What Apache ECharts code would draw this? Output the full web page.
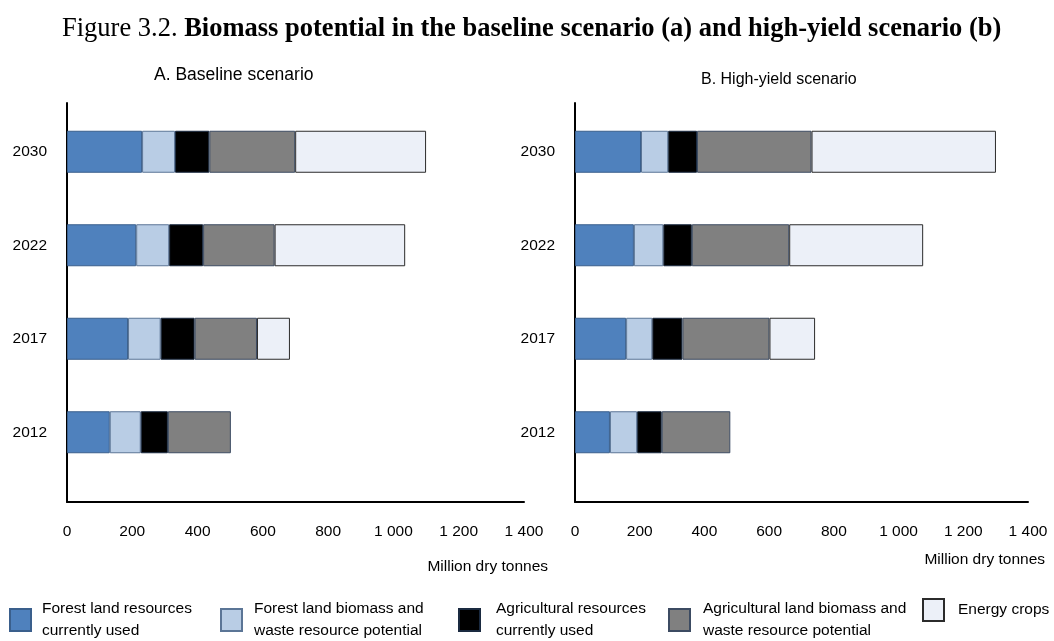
<!DOCTYPE html>
<html>
<head>
<meta charset="utf-8">
<script src="https://cdn.jsdelivr.net/npm/echarts@6/dist/echarts.min.js"></script>
<style>
  html, body { margin: 0; padding: 0; background: #fff; }
  #chart { width: 1054px; height: 641px; }
</style>
</head>
<body>
<div id="chart"></div>
<script>
// Years on the category axis, bottom to top
const years = ['2012', '2017', '2022', '2030'];

// Resource groups (stack order, left to right)
const groupNames = [
  'Forest land resources\ncurrently used',
  'Forest land biomass and\nwaste resource potential',
  'Agricultural resources\ncurrently used',
  'Agricultural land biomass and\nwaste resource potential',
  'Energy crops'
];

// A. Baseline scenario (million dry tonnes)
const baseForestUsed      = [131, 187, 212, 230];
const baseForestPotential = [95, 100, 101, 101];
const baseAgriUsed        = [83, 104, 104, 105];
const baseAgriPotential   = [193, 191, 219, 263];
const baseEnergyCrops     = [null, 101, 400, 401];

// B. High-yield scenario (million dry tonnes)
const hyForestUsed      = [108, 158, 182, 204];
const hyForestPotential = [84, 81, 91, 84];
const hyAgriUsed        = [76, 93, 88, 89];
const hyAgriPotential   = [212, 269, 301, 354];
const hyEnergyCrops     = [null, 141, 414, 570];

// Value axis tick labels (0 to 1 400, step 200)
const xTickLabels = ['0', '200', '400', '600', '800', '1 000', '1 200', '1 400'];

const SANS = 'Liberation Sans, Arial, sans-serif';
const SERIF = 'Liberation Serif, Times New Roman, serif';

const groupStyles = [
  { color: '#4f81bd', borderColor: '#3a5f8c' },
  { color: '#b9cde5', borderColor: '#5b7596' },
  { color: '#000000', borderColor: '#1a2a40' },
  { color: '#808080', borderColor: '#3c4b62' },
  { color: '#ecf0f8', borderColor: '#2b2b2b' }
];

const panels = [
  { left: 67, width: 457, gap: 24, namePad: 57,
    data: [baseForestUsed, baseForestPotential, baseAgriUsed, baseAgriPotential, baseEnergyCrops] },
  { left: 575, width: 453, gap: 17, namePad: 50,
    data: [hyForestUsed, hyForestPotential, hyAgriUsed, hyAgriPotential, hyEnergyCrops] }
];

const grid = [], xAxis = [], yAxis = [], series = [];

panels.forEach((p, i) => {
  // grid for the bars
  grid.push({ left: p.left, width: p.width, top: 105, height: 374, containLabel: false });
  // grid carrying the visible axis frame and ticks
  grid.push({ left: p.left, width: p.width, top: 103, height: 399, containLabel: false });
  const barGrid = i * 2, frameGrid = i * 2 + 1;

  xAxis.push({
    gridIndex: barGrid, type: 'value', min: 0, max: 1400, interval: 200, show: false
  });
  xAxis.push({
    gridIndex: frameGrid, type: 'value', min: 0, max: 1400, interval: 200,
    axisLine: { show: true, lineStyle: { color: '#000', width: 2 } },
    axisTick: { show: false },
    splitLine: { show: false },
    axisLabel: {
      margin: 22, color: '#000', fontFamily: SANS, fontSize: 15.5,
      formatter: v => xTickLabels[Math.round(v / 200)]
    },
    name: 'Million dry tonnes',
    nameLocation: 'end',
    nameGap: p.gap,
    nameTextStyle: {
      color: '#000', fontFamily: SANS, fontSize: 15.5,
      align: 'right', verticalAlign: 'top', padding: [p.namePad, 0, 0, 0]
    }
  });

  yAxis.push({
    gridIndex: barGrid, type: 'category', data: years,
    axisLine: { show: false }, axisTick: { show: false },
    axisLabel: { margin: 20, color: '#000', fontFamily: SANS, fontSize: 15.5 }
  });
  yAxis.push({
    gridIndex: frameGrid, type: 'value', min: 0, max: 1,
    axisLine: { show: true, lineStyle: { color: '#000', width: 2 } },
    axisTick: { show: false }, axisLabel: { show: false }, splitLine: { show: false }
  });

  p.data.forEach((vals, k) => {
    series.push({
      name: groupNames[k],
      type: 'bar',
      stack: 'panel' + i,
      xAxisIndex: barGrid,
      yAxisIndex: barGrid,
      barWidth: 42,
      data: vals,
      itemStyle: {
        color: groupStyles[k].color,
        borderColor: groupStyles[k].borderColor,
        borderWidth: 1
      },
      emphasis: { disabled: true },
      animation: false
    });
  });
});

// one legend block per resource group, laid out along the bottom
const legendLefts = [9, 220, 458, 668, 922];
const legendTextGaps = [11, 12, 16, 13, 14];
const legend = groupNames.map((name, k) => ({
  data: [name],
  left: legendLefts[k],
  top: 598,
  padding: 0,
  icon: 'rect',
  itemWidth: 21,
  itemHeight: 22,
  selectedMode: false,
  textStyle: {
    color: '#000', fontFamily: SANS, fontSize: 15.5, lineHeight: 22,
    padding: [0, 0, 0, legendTextGaps[k] - 5]
  }
}));

const title = [
  {
    text: '{a|Figure 3.2. }{b|Biomass potential in the baseline scenario (a) and high-yield scenario (b)}',
    left: 62, top: 16, padding: 0,
    textStyle: {
      rich: {
        a: { fontFamily: SERIF, fontSize: 26.5, fontWeight: 'normal', color: '#000' },
        b: { fontFamily: SERIF, fontSize: 26.5, fontWeight: 'bold', color: '#000' }
      }
    }
  },
  {
    text: 'A. Baseline scenario', left: 154, top: 66, padding: 0,
    textStyle: { fontFamily: SANS, fontSize: 17.5, fontWeight: 'normal', color: '#000' }
  },
  {
    text: 'B. High-yield scenario', left: 701, top: 72, padding: 0,
    textStyle: { fontFamily: SANS, fontSize: 16, fontWeight: 'normal', color: '#000' }
  }
];

const chart = echarts.init(document.getElementById('chart'), null, { renderer: 'canvas' });
chart.setOption({
  backgroundColor: '#ffffff',
  animation: false,
  title, legend, grid, xAxis, yAxis, series
});
</script>
</body>
</html>
